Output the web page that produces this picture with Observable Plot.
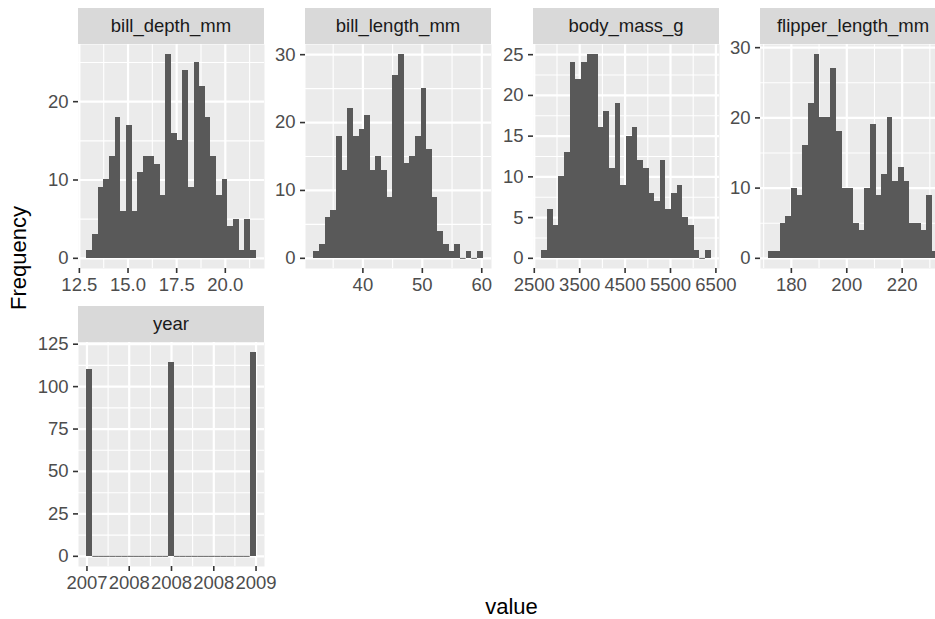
<!DOCTYPE html>
<html><head><meta charset="utf-8">
<script src="https://cdn.jsdelivr.net/npm/d3@7"></script>
<script src="https://cdn.jsdelivr.net/npm/@observablehq/plot@0.6"></script>
<style>
html,body{margin:0;padding:0;background:#fff;overflow:hidden;}
#chart{position:relative;width:935px;height:619px;overflow:hidden;font-family:"Liberation Sans",Arial,Helvetica,sans-serif;}
.strip{position:absolute;background:#D9D9D9;color:#1A1A1A;font-size:18.5px;display:flex;align-items:center;justify-content:center;white-space:nowrap;}
.panel{position:absolute;}
.title{position:absolute;color:#000;font-size:22px;white-space:nowrap;}
</style></head><body><div id="chart"></div>
<script>
// ---- data ----
const facetNames = ["bill_depth_mm", "bill_length_mm", "body_mass_g", "flipper_length_mm", "year"];
const billDepthCounts  = [1,3,9,10,13,18,6,17,6,11,13,13,12,8,26,16,15,24,9,25,22,18,13,8,10,4,5,1,5,1];
const billLengthCounts = [1,2,6,7,18,13,22,18,19,21,13,15,13,9,27,30,14,15,18,25,16,9,4,2,1,2,0,1,0,1];
const bodyMassCounts   = [1,6,4,10,13,24,22,24,25,25,16,18,11,19,9,15,16,12,11,8,7,12,6,8,9,5,4,1,0,1];
const flipperCounts    = [1,1,5,6,10,9,16,22,29,20,20,27,18,10,10,5,4,10,19,9,12,20,11,13,11,5,5,4,9,1];
const yearCounts       = [110,0,0,0,0,0,0,0,0,0,0,0,0,0,114,0,0,0,0,0,0,0,0,0,0,0,0,0,120];
const binStart = [12.8897, 31.7672, 2668.966, 171.9138, 2007];
const binWidth = [0.289655, 0.948276, 124.1379, 2.034483, 0.0689655];
const xTicks = [[12.5,15,17.5,20],[40,50,60],[2500,3500,4500,5500,6500],[180,200,220],[2007,2007.5,2008,2008.5,2009]];
const xTickLabels = [["12.5","15.0","17.5","20.0"],["40","50","60"],["2500","3500","4500","5500","6500"],["180","200","220"],["2007","2008","2008","2008","2009"]];
const yTicks = [[0,10,20],[0,10,20,30],[0,5,10,15,20,25],[0,10,20,30],[0,25,50,75,100,125]];
const xTitle = "value", yTitle = "Frequency";

// ---- layout ----
const countsList = [billDepthCounts, billLengthCounts, bodyMassCounts, flipperCounts, yearCounts];
const panelLeft = [78, 305, 533, 760, 78];
const panelTop = [44, 44, 44, 44, 342];
const PW = 186, PH = 224, STRIP = 36, ML = 60, MB = 40;
const FONT = '"Liberation Sans", Arial, Helvetica, sans-serif';
const chart = document.getElementById("chart");

function minorOf(t, lo, hi) {
  const step = t[1] - t[0], out = [];
  for (let k = -1; k < t.length; k++) out.push(t[0] + (k + 0.5) * step);
  return out.filter(v => v >= lo && v <= hi);
}

facetNames.forEach((name, i) => {
  const counts = countsList[i];
  const bins = counts.map((c, k) => ({x1: binStart[i] + k * binWidth[i], x2: binStart[i] + (k + 1) * binWidth[i], count: c}));
  const lo = bins[0].x1, hi = bins[bins.length - 1].x2, pad = (hi - lo) * 0.05;
  const ymax = d3.max(counts), ypad = ymax * 0.05;
  const xd = [lo - pad, hi + pad], yd = [-ypad, ymax + ypad];
  const xt = xTicks[i].filter(v => v >= xd[0] && v <= xd[1]);
  const yt = yTicks[i];
  const labelMap = new Map(xTicks[i].map((v, k) => [v, xTickLabels[i][k]]));
  const svg = Plot.plot({
    width: ML + PW, height: PH + MB,
    marginLeft: ML, marginRight: 0, marginTop: 0, marginBottom: MB,
    x: {domain: xd}, y: {domain: yd},
    style: {fontFamily: FONT, fontSize: "18.5px", color: "#4D4D4D", background: "transparent", overflow: "visible"},
    marks: [
      Plot.frame({fill: "#EBEBEB", stroke: null}),
      Plot.gridX(minorOf(xTicks[i], xd[0], xd[1]), {stroke: "white", strokeOpacity: 1, strokeWidth: 1.1}),
      Plot.gridY(minorOf(yt, yd[0], yd[1]), {stroke: "white", strokeOpacity: 1, strokeWidth: 1.1}),
      Plot.gridX(xt, {stroke: "white", strokeOpacity: 1, strokeWidth: 2.2}),
      Plot.gridY(yt, {stroke: "white", strokeOpacity: 1, strokeWidth: 2.2}),
      Plot.rectY(bins.filter(d => d.count > 0), {x1: "x1", x2: "x2", y1: 0, y2: "count", fill: "#595959", shapeRendering: "crispEdges"}),
      Plot.ruleY(bins.filter(d => d.count === 0), {x1: "x1", x2: "x2", y: 0, stroke: "#595959", strokeWidth: 1}),
      Plot.axisX(xt, {anchor: "bottom", tickSize: 5, tickPadding: 4, stroke: "#333333", strokeWidth: 1.6, fill: "#4D4D4D", tickFormat: d => labelMap.get(d), label: null}),
      Plot.axisY(yt, {anchor: "left", tickSize: 5, tickPadding: 5, stroke: "#333333", strokeWidth: 1.6, fill: "#4D4D4D", label: null})
    ]
  });
  svg.classList.add("panel");
  svg.style.left = (panelLeft[i] - ML) + "px";
  svg.style.top = panelTop[i] + "px";
  chart.appendChild(svg);

  const strip = document.createElement("div");
  strip.className = "strip";
  strip.textContent = name;
  strip.style.left = panelLeft[i] + "px";
  strip.style.top = (panelTop[i] - STRIP) + "px";
  strip.style.width = PW + "px";
  strip.style.height = STRIP + "px";
  chart.appendChild(strip);
});

const xt = document.createElement("div");
xt.className = "title";
xt.textContent = xTitle;
xt.style.left = "511.5px"; xt.style.top = "607px";
xt.style.transform = "translate(-50%,-50%)";
chart.appendChild(xt);

const yt = document.createElement("div");
yt.className = "title";
yt.textContent = yTitle;
yt.style.left = "19px"; yt.style.top = "258px";
yt.style.transform = "translate(-50%,-50%) rotate(-90deg)";
chart.appendChild(yt);
</script>
</body></html>
